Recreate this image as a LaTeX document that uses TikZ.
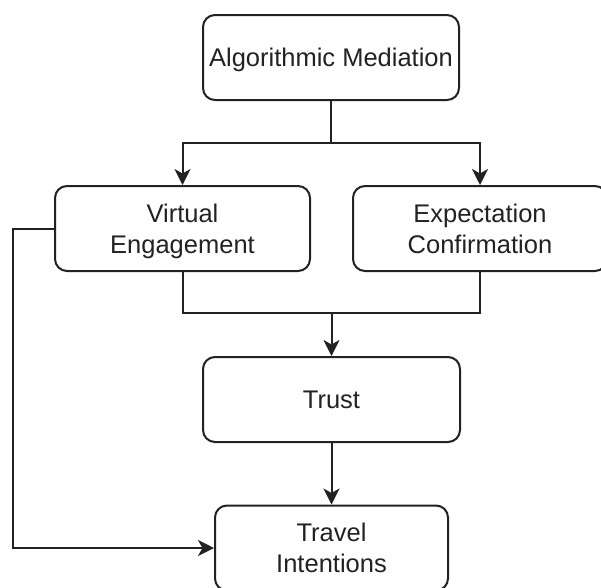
\documentclass[tikz,border=0pt]{standalone}
\usepackage{fontspec}
\setmainfont{Liberation Sans}
\usetikzlibrary{arrows.meta}
\definecolor{ink}{HTML}{222222}
\newcommand\mystrut{\rule[-6.5pt]{0pt}{31pt}}
\begin{document}
\begin{tikzpicture}[x=1pt,y=-1pt,
  box/.style={draw=ink, line width=2pt, rounded corners=12pt, minimum height=85pt,
    align=center, text=ink, font=\fontsize{25.5}{31}\selectfont, inner sep=0pt},
  conn/.style={draw=ink, line width=2pt},
  arr/.style={conn, -{Stealth[length=16pt,width=16pt,inset=4.5pt]}}]
\clip (0,0) rectangle (601,587);
\fill[white] (0,0) rectangle (601,587);
\node[box, minimum width=256pt] (am) at (331,57.5) {Algorithmic Mediation\mystrut};
\node[box, minimum width=255pt] (ve) at (182.5,228.5) {Virtual\mystrut\\Engagement\mystrut};
\node[box, minimum width=254pt] (ec) at (480,228.5) {Expectation\mystrut\\Confirmation\mystrut};
\node[box, minimum width=257pt] (trust) at (331.5,399.5) {Trust\mystrut};
\node[box, minimum width=233pt] (ti) at (331.5,548) {Travel\mystrut\\Intentions\mystrut};
\coordinate (split) at (331,143);
\coordinate (join) at (331.5,313);
\coordinate (lft) at (12.5,228.5);
\draw[conn] (am.south) -- (split);
\draw[arr] (split) -| (ve.north);
\draw[arr] (split) -| (ec.north);
\draw[conn] (ve.south) |- (join) -| (ec.south);
\draw[arr] (join) -- (trust.north);
\draw[arr] (trust.south) -- (ti.north);
\draw[arr] (ve.west) -- (lft) |- (ti.west);
\end{tikzpicture}
\end{document}
